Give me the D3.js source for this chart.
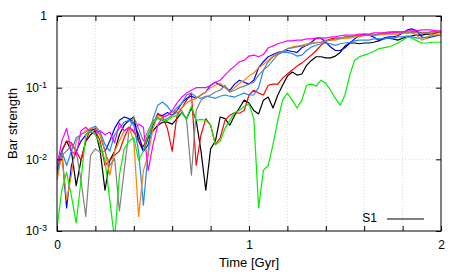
<!DOCTYPE html>
<html>
<head>
<meta charset="utf-8">
<script src="https://cdn.jsdelivr.net/npm/d3@7"></script>
<style>
    body { margin: 0; background: #fff; }
    text { font-family: "Liberation Sans", Arial, sans-serif; font-size: 12px; fill: #000; }
    text.title { font-size: 13px; }
</style>
</head>
<body>
<svg id="chart" width="463" height="274"></svg>
<script>
// time grid, one sample every 0.025 Gyr (0 .. 2)
var times = d3.range(81).map(function(i) { return i * 0.025; });

var blackS1 = [0.0070,0.013,0.018,0.013,0.0043,0.0097,0.018,0.022,0.025,0.013,
    0.0037,0.0097,0.013,0.022,0.030,0.035,0.039,0.018,0.013,0.020,
    0.025,0.030,0.033,0.033,0.031,0.037,0.045,0.037,0.052,0.035,
    0.013,0.0037,0.014,0.018,0.039,0.037,0.030,0.041,0.052,0.067,
    0.061,0.048,0.043,0.067,0.074,0.052,0.079,0.108,0.145,0.165,
    0.15,0.155,0.205,0.24,0.27,0.27,0.26,0.26,0.276,0.31,
    0.38,0.42,0.42,0.41,0.42,0.42,0.43,0.45,0.48,0.49,
    0.48,0.46,0.49,0.51,0.53,0.54,0.54,0.56,0.56,0.58,
    0.60];
var redS = [0.0082,0.013,0.018,0.017,0.013,0.0097,0.018,0.027,0.025,0.018,
    0.0082,0.0097,0.0114,0.013,0.020,0.028,0.024,0.018,0.015,0.022,
    0.030,0.044,0.039,0.027,0.013,0.041,0.052,0.067,0.084,0.0082,
    0.022,0.037,0.030,0.016,0.020,0.035,0.041,0.045,0.044,0.048,
    0.079,0.092,0.084,0.079,0.108,0.112,0.112,0.136,0.155,0.176,
    0.20,0.22,0.25,0.285,0.33,0.39,0.45,0.48,0.49,0.49,
    0.51,0.51,0.53,0.53,0.54,0.54,0.54,0.56,0.56,0.58,
    0.58,0.58,0.58,0.58,0.60,0.60,0.58,0.58,0.60,0.60,
    0.58];
var greenS = [0.0011,0.0037,0.0066,0.0031,0.0013,0.0051,0.022,0.025,0.022,0.016,
    0.0097,0.0027,0.00075,0.0060,0.014,0.018,0.020,0.0097,0.013,0.022,
    0.032,0.039,0.035,0.035,0.039,0.041,0.044,0.037,0.055,0.035,
    0.036,0.035,0.030,0.016,0.018,0.027,0.035,0.045,0.048,0.055,
    0.059,0.037,0.0021,0.0070,0.0082,0.016,0.035,0.067,0.084,0.067,
    0.052,0.067,0.108,0.112,0.105,0.127,0.115,0.092,0.071,0.057,
    0.079,0.15,0.24,0.27,0.285,0.30,0.32,0.35,0.36,0.37,
    0.39,0.42,0.46,0.51,0.49,0.45,0.42,0.42,0.43,0.43,
    0.43];
var blueS = [0.0060,0.013,0.0021,0.0082,0.013,0.018,0.022,0.025,0.027,0.022,
    0.013,0.018,0.027,0.035,0.039,0.037,0.032,0.022,0.013,0.016,
    0.030,0.041,0.041,0.045,0.041,0.048,0.061,0.071,0.076,0.071,
    0.079,0.087,0.108,0.119,0.108,0.10,0.092,0.112,0.127,0.119,
    0.112,0.127,0.19,0.23,0.27,0.29,0.31,0.32,0.33,0.32,
    0.31,0.36,0.39,0.43,0.49,0.49,0.43,0.37,0.33,0.33,
    0.36,0.42,0.48,0.53,0.56,0.54,0.51,0.46,0.49,0.51,
    0.51,0.53,0.58,0.64,0.66,0.62,0.51,0.49,0.51,0.53,
    0.54];
var lightBlueS = [0.0060,0.013,0.0082,0.013,0.020,0.022,0.024,0.027,0.029,0.024,
    0.016,0.013,0.022,0.027,0.033,0.035,0.030,0.013,0.0023,0.013,
    0.037,0.057,0.063,0.055,0.045,0.052,0.061,0.079,0.084,0.074,
    0.071,0.076,0.074,0.071,0.076,0.079,0.076,0.074,0.079,0.084,
    0.079,0.079,0.10,0.176,0.23,0.27,0.29,0.31,0.31,0.30,
    0.276,0.285,0.33,0.37,0.39,0.41,0.42,0.41,0.39,0.41,
    0.42,0.43,0.45,0.46,0.46,0.46,0.48,0.48,0.48,0.49,
    0.49,0.51,0.51,0.53,0.51,0.49,0.49,0.51,0.53,0.53,
    0.53];
var orangeS = [0.0051,0.0114,0.0027,0.0060,0.018,0.022,0.025,0.027,0.028,0.022,
    0.013,0.0060,0.013,0.018,0.025,0.028,0.018,0.0016,0.0070,0.0114,
    0.027,0.041,0.039,0.041,0.045,0.048,0.052,0.061,0.067,0.071,
    0.079,0.087,0.10,0.108,0.115,0.10,0.087,0.10,0.115,0.127,
    0.145,0.16,0.19,0.21,0.24,0.276,0.30,0.32,0.35,0.37,
    0.38,0.39,0.41,0.42,0.43,0.43,0.45,0.46,0.46,0.48,
    0.49,0.49,0.51,0.51,0.53,0.54,0.54,0.54,0.56,0.56,
    0.56,0.56,0.58,0.58,0.58,0.53,0.46,0.49,0.56,0.56,
    0.54];
var grayS = [0.0082,0.0114,0.013,0.016,0.013,0.0051,0.0016,0.0114,0.014,0.0125,
    0.013,0.0082,0.0103,0.0019,0.0070,0.025,0.039,0.027,0.018,0.025,
    0.035,0.037,0.035,0.037,0.041,0.045,0.048,0.035,0.0060,0.048,
    0.067,0.074,0.079,0.087,0.092,0.108,0.087,0.092,0.10,0.105,
    0.112,0.119,0.15,0.176,0.20,0.24,0.29,0.32,0.35,0.36,
    0.37,0.38,0.39,0.41,0.42,0.43,0.45,0.46,0.48,0.49,
    0.51,0.51,0.53,0.54,0.54,0.54,0.54,0.56,0.58,0.60,
    0.60,0.60,0.60,0.60,0.58,0.58,0.58,0.58,0.60,0.60,
    0.60];
var magentaS = [0.0082,0.018,0.027,0.013,0.0114,0.025,0.028,0.024,0.023,0.025,
    0.022,0.024,0.017,0.032,0.025,0.028,0.025,0.031,0.028,0.0070,
    0.016,0.030,0.039,0.041,0.048,0.061,0.074,0.084,0.092,0.10,
    0.10,0.10,0.108,0.119,0.127,0.15,0.176,0.20,0.23,0.24,
    0.276,0.285,0.27,0.29,0.36,0.38,0.41,0.43,0.45,0.45,
    0.46,0.46,0.48,0.48,0.49,0.49,0.49,0.51,0.51,0.53,
    0.54,0.54,0.54,0.56,0.56,0.56,0.58,0.58,0.58,0.58,
    0.60,0.60,0.60,0.62,0.62,0.62,0.64,0.64,0.64,0.62,
    0.62];

var xTicks = [0, 0.2, 0.4, 0.6, 0.8, 1, 1.2, 1.4, 1.6, 1.8, 2];
var xTickLabels = ["0", "", "", "", "", "1", "", "", "", "", "2"];
var yTicks = [0.001, 0.01, 0.1, 1];
var yTickExps = ["-3", "-2", "-1", ""];

(function() {
    'use strict';

    var series = [
        {name: "S1", color: "#000000", values: blackS1},
        {color: "#ff0000", values: redS},
        {color: "#0000ff", values: blueS},
        {color: "#1e88ff", values: lightBlueS},
        {color: "#ff8000", values: orangeS},
        {color: "#808080", values: grayS},
        {color: "#ff00ff", values: magentaS},
        {color: "#00ee00", values: greenS}
    ];

    var plotLeft = 57, plotRight = 441, plotTop = 16, plotBottom = 231;

    var svg = d3.select("#chart");

    var x = d3.scaleLinear().domain([0, 2]).range([plotLeft, plotRight]);
    var y = d3.scaleLog().domain([0.001, 1]).range([plotBottom, plotTop]);

    // grid
    var grid = svg.append("g").attr("stroke", "#d0d0d0").attr("stroke-width", 0.8)
        .attr("stroke-dasharray", "1,2");
    grid.selectAll("line.gx").data(xTicks.slice(1, -1)).enter().append("line")
        .attr("x1", function(d) { return x(d); }).attr("x2", function(d) { return x(d); })
        .attr("y1", plotTop).attr("y2", plotBottom);
    grid.selectAll("line.gy").data(yTicks.slice(1, -1)).enter().append("line")
        .attr("x1", plotLeft).attr("x2", plotRight)
        .attr("y1", function(d) { return y(d); }).attr("y2", function(d) { return y(d); });

    // data lines
    svg.append("clipPath").attr("id", "plotClip").append("rect")
        .attr("x", plotLeft).attr("y", plotTop)
        .attr("width", plotRight - plotLeft).attr("height", plotBottom - plotTop);

    var line = d3.line()
        .x(function(d, i) { return x(times[i]); })
        .y(function(d) { return y(d); });

    svg.append("g").attr("clip-path", "url(#plotClip)")
        .selectAll("path").data(series).enter().append("path")
        .attr("d", function(s) { return line(s.values); })
        .attr("fill", "none")
        .attr("stroke", function(s) { return s.color; })
        .attr("stroke-width", 1.2)
        .attr("stroke-linejoin", "round");

    // axes
    function styleAxis(g) {
        g.select(".domain").remove();
        g.selectAll(".tick line").attr("stroke", "#000");
        g.selectAll("text").attr("font-size", null).attr("font-family", null);
    }

    svg.append("g").attr("transform", "translate(0," + plotBottom + ")")
        .call(d3.axisBottom(x).tickValues(xTicks).tickSize(-5).tickPadding(9)
            .tickFormat(function(d, i) { return xTickLabels[i]; }))
        .call(styleAxis);
    svg.append("g").attr("transform", "translate(0," + plotTop + ")")
        .call(d3.axisTop(x).tickValues(xTicks).tickSize(-5).tickFormat(""))
        .call(styleAxis);

    var yAxisG = svg.append("g").attr("transform", "translate(" + plotLeft + ",0)")
        .call(d3.axisLeft(y).tickValues(yTicks).tickSize(-5).tickPadding(10).tickFormat(""))
        .call(styleAxis);
    yAxisG.selectAll(".tick text").each(function(d, i) {
        var t = d3.select(this);
        if (yTickExps[i] === "") {
            t.text("1");
        } else {
            t.text("10");
            t.append("tspan").attr("dy", "-0.45em").style("font-size", "9px").text(yTickExps[i]);
        }
    });
    svg.append("g").attr("transform", "translate(" + plotRight + ",0)")
        .call(d3.axisRight(y).tickValues(yTicks).tickSize(-5).tickFormat(""))
        .call(styleAxis);

    // frame
    svg.append("rect").attr("x", plotLeft).attr("y", plotTop)
        .attr("width", plotRight - plotLeft).attr("height", plotBottom - plotTop)
        .attr("fill", "none").attr("stroke", "#000").attr("stroke-width", 1);

    // labels
    svg.append("text").attr("class", "title")
        .attr("x", (plotLeft + plotRight) / 2).attr("y", 267)
        .attr("text-anchor", "middle").text("Time [Gyr]");
    svg.append("text").attr("class", "title")
        .attr("transform", "translate(17," + (plotTop + plotBottom) / 2 + ") rotate(-90)")
        .attr("text-anchor", "middle").text("Bar strength");

    // key
    svg.append("text").attr("x", 377).attr("y", 222).attr("text-anchor", "end").text(series[0].name);
    svg.append("line").attr("x1", 387).attr("x2", 424).attr("y1", 219).attr("y2", 219)
        .attr("stroke", series[0].color).attr("stroke-width", 1.2);
})();
</script>
</body>
</html>
